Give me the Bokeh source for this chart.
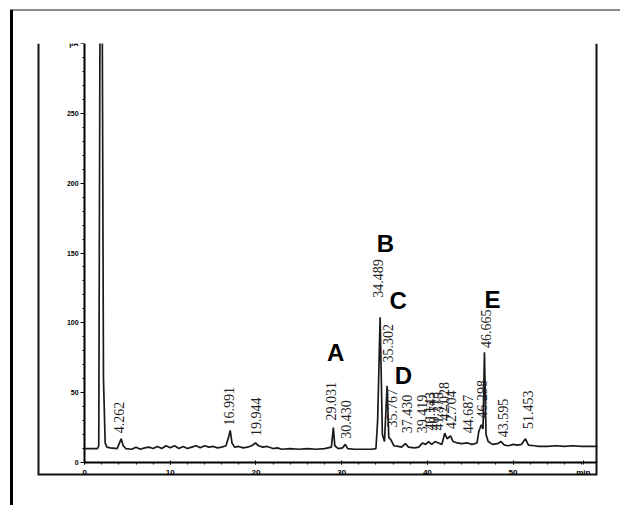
import math
from bokeh.plotting import figure
from bokeh.models import FixedTicker, Range1d, ColumnDataSource, LinearAxis
from bokeh.core.properties import value
from bokeh.embed import file_html
from bokeh.resources import INLINE

# chromatogram trace (retention time in min, signal in pA)
trace_t = [0, 1.5, 1.65, 1.8, 2.05, 2.2, 2.4, 2.6, 3.0, 3.8, 4.0, 4.262, 4.5, 4.8, 5.5, 6.0, 6.5, 7.0,
           7.5, 8.0, 8.5, 9.0, 9.5, 10.0, 10.5, 11.0, 11.5, 12.0, 12.5, 13.0, 13.5, 14.0, 14.5, 15.0,
           15.5, 16.0, 16.5, 16.8, 16.991, 17.2, 17.5, 18.0, 18.5, 19.0, 19.5, 19.944, 20.3, 20.8,
           21.3, 22.0, 22.5, 23.0, 24.0, 25.0, 26.0, 27.0, 28.0, 28.8, 29.031, 29.2, 29.6, 30.1,
           30.43, 30.7, 31.5, 32.5, 33.5, 34.0, 34.2, 34.489, 34.75, 35.0, 35.302, 35.5, 35.767,
           36.1, 36.6, 37.0, 37.43, 37.8, 38.5, 39.0, 39.419, 39.8, 40.143, 40.5, 40.9, 41.3, 41.7,
           42.028, 42.3, 42.704, 43.0, 43.5, 44.0, 44.687, 45.2, 45.8, 46.0, 46.298, 46.5, 46.665,
           46.85, 47.1, 47.6, 48.2, 48.595, 49.0, 49.5, 50.0, 50.5, 51.0, 51.453, 51.8, 52.5, 53.0,
           54.0, 55.0, 56.0, 57.0, 58.0, 59.0, 60.0]
trace_pa = [10, 10, 12, 330, 330, 60, 14, 11, 10.5, 10, 13, 17, 12, 10, 9.5, 11, 9.5, 10.5,
            11, 10, 11.5, 10, 12, 10.5, 12, 10, 11.5, 10, 11, 12, 10.5, 12, 11, 11.5,
            10.5, 11, 12, 18, 23, 14, 11, 11.5, 10.5, 11, 12, 14, 12, 11,
            11.5, 10, 10.5, 9.5, 10, 9.5, 10, 9.5, 10, 11, 25, 12, 10, 10.5,
            13, 10, 9.5, 9.5, 9.5, 10, 30, 104, 20, 15, 55, 18, 16,
            12, 11.5, 11, 13.5, 11, 10.5, 11, 14, 13, 15, 13, 15, 14, 13,
            21, 17, 19, 15, 14, 13.5, 14, 13, 14, 22, 27, 24, 79,
            20, 15, 13, 13.5, 15, 12.5, 12, 13, 12.5, 13, 17, 12.5, 12, 11.5,
            11.5, 12, 11.5, 12, 11.5, 11.5, 11.5]

# peak labels (text as printed), their time and the signal level where each label starts
peak_labels = ["4.262", "16.991", "19.944", "29.031", "30.430", "34.489", "35.302", "35.767",
               "37.430", "39.419", "40.143", "40.713", "41.375", "42.028", "42.704", "44.687",
               "46.298", "46.665", "43.595", "51.453"]
label_t = [4.0, 16.9, 19.95, 28.8, 30.5, 34.2, 35.4, 35.85, 37.6, 39.4, 40.3, 40.75, 41.2,
           42.0, 42.8, 44.8, 46.4, 46.9, 48.8, 51.7]
label_pa = [21, 26.5, 19, 30, 17, 118, 71.6, 25, 21, 21, 23, 23, 23, 30, 24, 21, 31.5, 82, 18, 24]

# compound letters
letters = ["A", "B", "C", "D", "E"]
letter_t = [29.3, 35.1, 36.6, 37.2, 47.6]
letter_pa = [79, 157, 116, 62, 117]

y_ticks = [0, 50, 100, 150, 200, 250, 300]
x_ticks = [0, 10, 20, 30, 40, 50, 58.2]

X0, X1, Y0, Y1 = -5.5, 59.86, -9.3, 300
p = figure(width=620, height=505, x_range=Range1d(X0, X1), y_range=Range1d(Y0, Y1),
           output_backend="svg", toolbar_location=None, x_axis_location=None, y_axis_location=None,
           min_border_left=37, min_border_right=23, min_border_top=43, min_border_bottom=30)
p.grid.visible = False
p.outline_line_color = None
p.background_fill_color = "white"
p.border_fill_alpha = 0
p.styles = {
    "background": ("linear-gradient(#000,#000) 10px 10px / 3px 501px no-repeat, "
                   "linear-gradient(#8a8a8a,#8a8a8a) 10px 9px / 615px 2px no-repeat, white"),
}

# open-topped frame drawn at the plot-area edges (left, bottom, right)
p.multi_line(xs=[[X0, X0, X1, X1]], ys=[[Y1, Y0, Y0, Y1]], line_color="#111111", line_width=4)

p.line(trace_t, trace_pa, line_color="#1a1a1a", line_width=1.7)

src = ColumnDataSource(dict(x=label_t, y=label_pa, t=peak_labels))
p.text(x="x", y="y", text="t", source=src, angle=math.pi / 2, text_align="left",
       text_baseline="middle", text_font=value("Liberation Serif"), text_font_size="14px",
       text_color="#222222")

lsrc = ColumnDataSource(dict(x=letter_t, y=letter_pa, t=letters))
p.text(x="x", y="y", text="t", source=lsrc, text_align="center", text_baseline="middle",
       text_font=value("Liberation Sans"), text_font_style="bold", text_font_size="24px",
       text_color="black")

ya = LinearAxis(fixed_location=0, bounds=(0, 300))
ya.ticker = FixedTicker(ticks=y_ticks, minor_ticks=list(range(0, 301, 10)))
ya.major_label_overrides = {300: "pA"}
ya.axis_line_width = 2
ya.major_tick_in = 0
ya.major_tick_out = 4
ya.minor_tick_in = 0
ya.minor_tick_out = 2
ya.major_label_text_font = "Liberation Sans"
ya.major_label_text_font_size = "7px"
ya.major_label_text_font_style = "bold"
ya.major_label_text_color = "black"
ya.major_label_standoff = 2
p.add_layout(ya, "left")

xa = LinearAxis(fixed_location=0, bounds=(0, X1))
xa.ticker = FixedTicker(ticks=x_ticks, minor_ticks=list(range(0, 60, 2)))
xa.major_label_overrides = {58.2: "min"}
xa.axis_line_width = 2
xa.major_tick_in = 2
xa.major_tick_out = 2
xa.minor_tick_in = 0
xa.minor_tick_out = 2
xa.major_label_text_font = "Liberation Sans"
xa.major_label_text_font_size = "8px"
xa.major_label_text_font_style = "bold"
xa.major_label_text_color = "black"
xa.major_label_standoff = 3
p.add_layout(xa, "below")

open("out.html", "w").write(file_html(p, INLINE))
